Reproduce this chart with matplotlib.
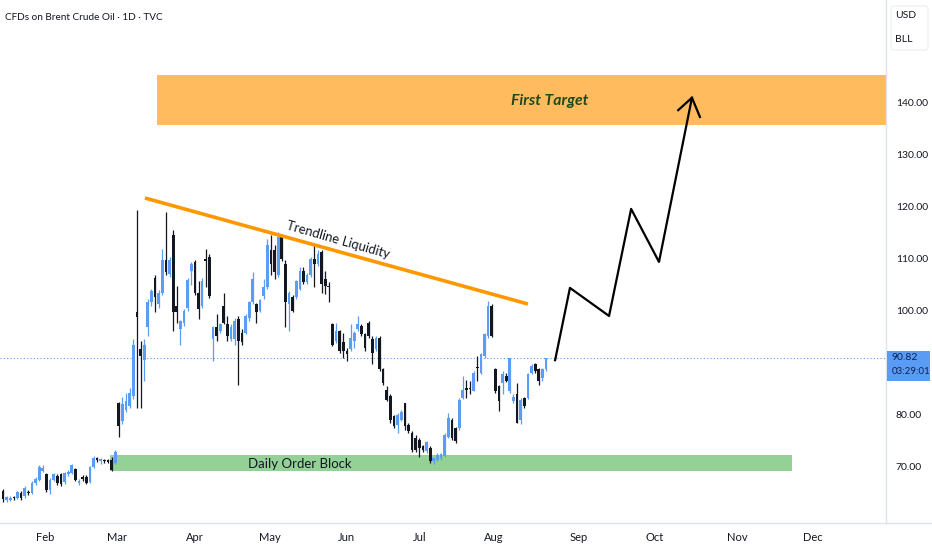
"""Brent crude daily chart with trendline / order block markup (TradingView style)."""

import numpy as np
import matplotlib.pyplot as plt
from matplotlib.lines import Line2D
from matplotlib.patches import Rectangle, FancyBboxPatch

# Daily candles, Jan -> mid Aug (price in USD/bbl)
opens = [65.3, 63.5, 63.6, 64.0, 64.0, 65.0, 64.3, 65.2, 65.0, 66.9,
         67.5, 69.1, 68.5, 65.5, 67.5, 68.3, 68.5, 67.0, 68.5, 68.8,
         69.5, 66.8, 67.9, 68.1, 67.0, 70.0, 71.6, 71.0, 71.2, 71.2,
         71.2, 70.8, 82.2, 78.7, 81.0, 81.6, 83.6, 99.7, 92.6, 90.6,
         96.8, 101.6, 106.4, 101.3, 103.5, 109.7, 107.1, 114.5, 101.0, 96.4,
         97.7, 100.6, 107.7, 109.3, 103.5, 101.0, 110.0, 110.3, 94.5, 96.8,
         96.1, 101.0, 97.4, 94.5, 94.5, 98.4, 95.8, 95.8, 98.7, 101.6,
         101.3, 100.0, 102.9, 104.5, 111.6, 111.6, 106.8, 114.5, 109.0, 101.3,
         102.6, 102.6, 104.2, 107.7, 105.5, 106.8, 110.0, 109.0, 111.3, 106.1,
         104.7, 97.4, 94.2, 96.1, 93.9, 92.3, 92.6, 94.2, 96.4, 97.1,
         95.5, 97.7, 94.5, 92.6, 94.8, 88.7, 84.8, 83.6, 79.7, 78.1,
         79.0, 82.3, 78.1, 76.5, 75.5, 75.2, 73.9, 73.0, 73.6, 71.0,
         71.3, 71.6, 72.0, 75.8, 79.0, 77.4, 77.4, 83.2, 85.2, 85.2,
         84.5, 89.2, 88.1, 91.3, 95.2, 101.0, 88.7, 85.5, 86.1, 87.4,
         84.5, 82.6, 83.9, 79.0, 83.2, 83.2, 88.1, 89.7, 88.7, 87.1,
         88.7]
highs = [65.8, 64.3, 64.4, 64.3, 65.4, 65.3, 66.2, 65.5, 67.3, 68.0,
         70.4, 70.4, 68.8, 67.8, 68.8, 68.6, 68.8, 69.0, 69.3, 70.5,
         69.8, 67.6, 68.4, 68.4, 70.2, 72.0, 71.9, 71.6, 71.5, 71.5,
         71.8, 73.2, 82.5, 83.5, 84.2, 85.2, 94.5, 119.3, 94.2, 94.5,
         102.3, 104.2, 106.8, 104.0, 111.9, 119.0, 110.3, 115.5, 104.8, 98.3,
         100.3, 106.4, 109.3, 109.7, 105.8, 106.4, 111.9, 111.0, 97.0, 99.4,
         97.7, 103.5, 99.0, 97.4, 98.7, 99.0, 96.4, 99.4, 101.9, 107.4,
         101.5, 102.3, 106.1, 113.9, 114.5, 112.6, 115.2, 114.8, 109.7, 103.8,
         103.0, 106.0, 108.4, 108.4, 107.2, 110.4, 112.6, 111.6, 111.6, 107.7,
         105.5, 97.7, 97.7, 96.3, 95.8, 92.9, 97.4, 96.1, 99.0, 97.4,
         95.8, 98.1, 95.2, 95.2, 95.2, 89.0, 85.5, 83.9, 80.0, 80.3,
         81.0, 82.3, 78.4, 76.8, 76.1, 75.5, 74.2, 75.0, 73.9, 71.8,
         72.6, 72.6, 76.4, 80.3, 79.4, 77.7, 83.2, 87.4, 86.6, 86.5,
         88.4, 91.3, 91.9, 95.8, 101.9, 101.3, 89.0, 85.8, 88.4, 88.0,
         91.0, 84.0, 86.1, 83.2, 83.5, 88.1, 89.7, 90.0, 89.0, 89.0,
         91.0]
lows = [63.2, 63.2, 63.3, 63.5, 63.8, 63.6, 64.0, 64.6, 64.8, 66.5,
        67.2, 68.9, 65.2, 64.8, 67.2, 66.5, 66.3, 66.6, 68.3, 68.5,
        67.3, 66.5, 67.3, 66.6, 66.8, 69.8, 70.9, 70.5, 70.8, 70.8,
        69.2, 70.5, 75.8, 78.2, 80.6, 81.2, 83.0, 81.3, 81.2, 86.5,
        95.2, 101.0, 99.7, 100.6, 103.0, 106.8, 106.5, 96.1, 97.7, 93.5,
        97.0, 100.0, 105.0, 103.0, 98.4, 100.5, 104.5, 102.5, 90.3, 94.2,
        95.8, 97.4, 94.2, 94.2, 93.5, 85.8, 93.5, 95.5, 98.1, 101.3,
        97.7, 99.7, 102.3, 104.2, 106.8, 106.1, 106.5, 109.5, 96.8, 96.1,
        99.7, 102.3, 104.0, 105.2, 105.2, 106.5, 104.5, 108.7, 103.5, 103.2,
        101.6, 93.2, 93.8, 91.9, 91.0, 90.3, 92.3, 92.9, 96.1, 95.2,
        92.3, 94.8, 89.7, 92.3, 88.4, 85.8, 82.6, 78.4, 77.4, 76.5,
        78.7, 77.1, 76.5, 72.9, 72.9, 71.9, 72.9, 72.6, 70.7, 70.6,
        71.0, 71.3, 71.8, 75.5, 75.2, 74.6, 77.0, 83.0, 83.2, 83.9,
        84.5, 86.5, 87.8, 91.0, 94.8, 95.0, 84.2, 80.7, 83.9, 86.2,
        84.2, 82.3, 78.4, 78.2, 81.3, 83.0, 87.8, 88.1, 85.8, 86.5,
        88.4]
closes = [63.7, 64.1, 64.0, 63.9, 65.2, 63.9, 65.9, 64.9, 66.8, 67.7,
          69.9, 69.8, 65.5, 67.5, 68.5, 66.8, 66.7, 68.7, 69.0, 70.3,
          67.5, 67.3, 67.7, 66.8, 70.0, 71.7, 71.2, 71.4, 71.0, 70.9,
          69.3, 72.8, 77.8, 82.0, 82.6, 84.2, 93.5, 98.8, 91.3, 93.5,
          101.6, 103.9, 102.6, 103.5, 109.7, 107.4, 109.7, 99.7, 99.7, 98.0,
          100.0, 106.0, 109.0, 103.5, 100.3, 105.8, 109.5, 102.9, 96.8, 95.2,
          97.4, 97.7, 95.2, 96.8, 98.1, 94.2, 93.9, 99.0, 101.6, 106.1,
          99.7, 102.0, 104.5, 112.6, 109.0, 107.4, 114.2, 110.0, 101.6, 103.5,
          100.0, 105.8, 107.7, 105.5, 106.8, 110.0, 109.0, 111.0, 105.2, 104.8,
          104.5, 93.5, 96.1, 92.3, 92.3, 91.6, 94.8, 95.8, 97.4, 95.5,
          92.9, 95.2, 91.9, 94.8, 88.7, 86.1, 82.9, 79.0, 77.8, 80.0,
          80.6, 77.8, 76.8, 73.2, 73.2, 73.6, 73.2, 74.8, 71.0, 71.6,
          72.3, 72.4, 76.1, 79.4, 75.5, 74.9, 82.9, 84.8, 84.8, 84.9,
          88.1, 88.9, 91.6, 95.5, 101.0, 95.2, 84.5, 82.6, 87.8, 86.5,
          91.0, 83.5, 78.4, 82.9, 81.6, 87.8, 89.4, 88.4, 86.5, 88.7,
          90.82]

last_price = 90.82
countdown = "03:29:01"

# Month axis (bar-index positions)
month_pos = [11.6, 31.5, 53.0, 73.8, 94.8, 115.2, 135.6, 159.1, 180.1, 202.8, 223.8]
month_labels = ["Feb", "Mar", "Apr", "May", "Jun", "Jul", "Aug", "Sep", "Oct", "Nov", "Dec"]
price_ticks = [70, 80, 100, 110, 120, 130, 140]   # 90 hidden behind last-price tag

# Drawings
trend_x = [39.2, 145.0]
trend_y = [121.7, 101.3]
target_zone = (42.5, 135.8, 145.4)          # x start, low, high
order_block = (29.6, 217.9, 69.2, 72.2)     # x0, x1, low, high
path_x = [152.5, 156.6, 167.4, 173.5, 181.2, 190.3]
path_y = [90.5, 104.4, 99.0, 119.6, 109.4, 141.0]
head_x = [186.5, 190.3, 192.5]
head_y = [138.6, 141.0, 137.3]

UP = "#5b9cf6"
DOWN = "#131722"
GRID_LINE = "#e0e3eb"
TEXT = "#131722"

plt.rcParams["font.family"] = ["Lato", "DejaVu Sans"]

W, H = 932, 550
fig = plt.figure(figsize=(W / 100, H / 100), dpi=100)
fig.patch.set_facecolor("white")
ax = fig.add_axes([0, 27.3 / H, 886 / W, 1 - 27.3 / H])
ax.set_facecolor("white")

x = np.arange(len(opens))
o = np.array(opens)
c = np.array(closes)
up = c >= o
colors = np.where(up, UP, DOWN)

ax.vlines(x, lows, highs, colors=colors, lw=0.9, zorder=3)
body_h = np.maximum(np.abs(c - o), 0.3)
ax.bar(x, body_h, bottom=np.minimum(o, c), width=0.75, color=colors,
       linewidth=0, zorder=4)

# target zone and order block
x_max = 243.9
ax.add_patch(Rectangle((target_zone[0], target_zone[1]), x_max - target_zone[0] + 2,
                       target_zone[2] - target_zone[1], facecolor="#ffbb5e",
                       edgecolor="none", zorder=1))
ax.text(151.0, 140.3, "First Target", ha="center", va="center", fontsize=11.3,
        fontweight="bold", fontstyle="italic", color="#1d4a1d", zorder=5)

ax.add_patch(Rectangle((order_block[0], order_block[2]), order_block[1] - order_block[0],
                       order_block[3] - order_block[2], facecolor="#93d197",
                       edgecolor="none", zorder=2))
ax.text(82.0, 70.6, "Daily Order Block", ha="center", va="center", fontsize=9.5,
        color=TEXT, zorder=5)

# trendline
ax.plot(trend_x, trend_y, color="#ff9800", lw=2.6, solid_capstyle="butt", zorder=5)
ax.text(92.5, 113.6, "Trendline Liquidity", ha="center", va="center", fontsize=9.4,
        rotation=-16, rotation_mode="anchor", color=TEXT, zorder=5)

# projected path
ax.plot(path_x, path_y, color="black", lw=1.6, zorder=6)
ax.plot(head_x, head_y, color="black", lw=1.6, zorder=6)

# last price line
ax.axhline(last_price, color=UP, lw=0.8, ls=(0, (1, 2)), zorder=2)

ax.set_xlim(-0.83, x_max)
ax.set_ylim(59.22, 159.8)

ax.yaxis.tick_right()
ax.set_yticks(price_ticks)
ax.set_yticklabels([f"{p:.2f}" for p in price_ticks])
ax.set_xticks(month_pos)
ax.set_xticklabels(month_labels)
ax.tick_params(axis="y", length=0, pad=7, labelsize=7.5, labelcolor=TEXT)
ax.tick_params(axis="x", length=0, pad=7, labelsize=8, labelcolor=TEXT)
for side in ["top", "left"]:
    ax.spines[side].set_visible(False)
for side in ["right", "bottom"]:
    ax.spines[side].set_color(GRID_LINE)
    ax.spines[side].set_linewidth(1)

# bottom line continues under the price scale
fig.add_artist(Line2D([886 / W, 1], [27.3 / H, 27.3 / H], color=GRID_LINE, lw=1))

# title
fig.text(5 / W, 1 - 17 / H, "CFDs on Brent Crude Oil · 1D · TVC", fontsize=7.2,
         color=TEXT, va="center", ha="left")

# currency / unit box
fig.add_artist(FancyBboxPatch((891 / W, 1 - 50 / H), 37 / W, 44 / H,
                              boxstyle="round,pad=0,rounding_size=0.004",
                              transform=fig.transFigure, facecolor="white",
                              edgecolor="#eceef2", lw=0.8))
fig.text(895 / W, 1 - 16 / H, "USD", fontsize=7.5, color=TEXT, va="center")
fig.text(895 / W, 1 - 40 / H, "BLL", fontsize=7.5, color=TEXT, va="center")

# last price label
fig.add_artist(Rectangle((887 / W, 1 - 380.7 / H), 43 / W, 30 / H,
                         transform=fig.transFigure, facecolor="#5a9cf5",
                         edgecolor="none"))
fig.text(892 / W, 1 - 358 / H, f"{last_price:.2f}", fontsize=7.5, color="#0d2250",
         va="center")
fig.text(892 / W, 1 - 372 / H, countdown, fontsize=7, color="#0d2250",
         va="center")

fig.savefig("out.png", dpi=100, facecolor="white")
